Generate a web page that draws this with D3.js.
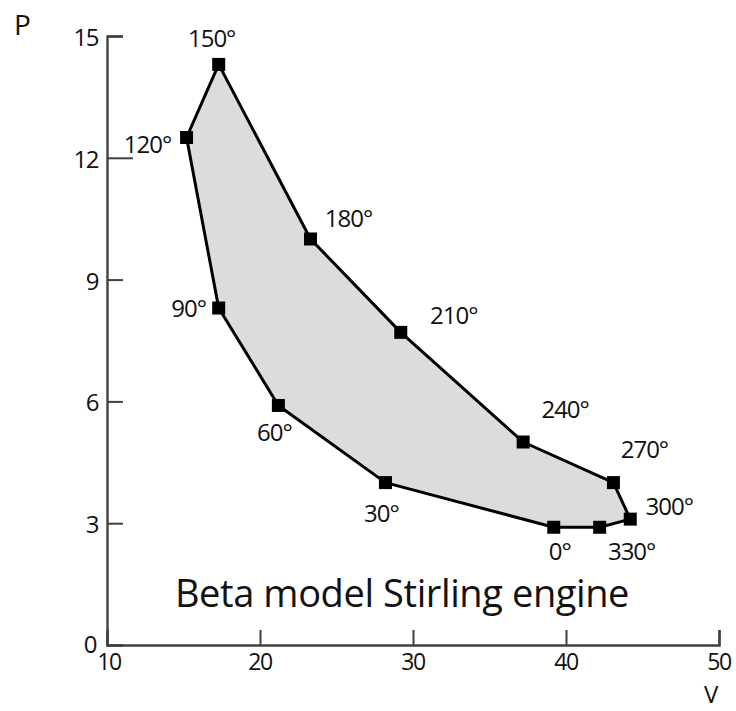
<!DOCTYPE html>
<html>
<head>
<meta charset="utf-8">
<script src="https://cdnjs.cloudflare.com/ajax/libs/d3/7.8.5/d3.min.js"></script>
<style>
  body { margin: 0; background: #fff; }
  svg text { font-family: "Open Sans", "Noto Sans", sans-serif; fill: #111; }
</style>
</head>
<body>
<div id="chart"></div>
<script>
// crank angle (deg) and the measured volume / pressure at each angle
var angles = [0, 30, 60, 90, 120, 150, 180, 210, 240, 270, 300, 330];
var volume = [39.2, 28.2, 21.2, 17.3, 15.2, 17.3, 23.3, 29.2, 37.2, 43.1, 44.2, 42.2];
var pressure = [2.9, 4.0, 5.9, 8.3, 12.5, 14.3, 10.0, 7.7, 5.0, 4.0, 3.1, 2.9];

var xTicks = [10, 20, 30, 40, 50];
var yTicks = [0, 3, 6, 9, 12, 15];

var title = 'Beta model Stirling engine';

// label placement relative to marker: [dx to text centre, dy to baseline]
var labelOffset = [
	[6, 33], [-4, 39], [-4, 36], [-30, 9], [-39, 15], [-7, -17],
	[38, -12], [53, -8], [42, -24], [31, -25], [39, -4], [32, 33]
];

var W = 736, H = 711;

var x = d3.scaleLinear().domain([10, 50]).range([107, 719]);
var y = d3.scaleLinear().domain([0, 15]).range([645, 36]);

var svg = d3.select('#chart')
  .append('svg')
  .attr('width', W)
  .attr('height', H);

var pts = angles.map(function(a, i) {
	return { a: a, v: volume[i], p: pressure[i], off: labelOffset[i] };
});

// shaded cycle
svg.append('path')
  .datum(pts)
  .attr('d', d3.line().x(function(d) { return x(d.v); }).y(function(d) { return y(d.p); }).curve(d3.curveLinearClosed))
  .attr('fill', '#dcdcdc')
  .attr('stroke', '#000')
  .attr('stroke-width', 3)
  .attr('stroke-linejoin', 'round');

// axes - ticks point inward
var xAxis = svg.append('g')
  .attr('transform', 'translate(0,' + y(0) + ')')
  .call(d3.axisTop(x).tickValues(xTicks).tickSize(15).tickFormat(''));

var yAxis = svg.append('g')
  .attr('transform', 'translate(' + x(10) + ',0)')
  .call(d3.axisRight(y).tickValues(yTicks).tickSize(16).tickFormat(''));

[xAxis, yAxis].forEach(function(g) {
	g.select('.domain').attr('stroke', '#404040').attr('stroke-width', 2.4);
	g.selectAll('.tick line').attr('stroke', '#404040').attr('stroke-width', 2);
});
// the 12 tick runs out to the 120 label in the original
yAxis.selectAll('.tick').filter(function(d) { return d === 12; }).select('line').attr('x2', 26);
yAxis.selectAll('.tick').filter(function(d) { return d === 0; }).remove();

// tick labels
svg.selectAll('.xlab')
  .data(xTicks)
  .enter().append('text')
  .attr('class', 'xlab')
  .attr('x', function(d) { return x(d) + (d === 10 ? 2 : 0); })
  .attr('y', 670)
  .attr('text-anchor', 'middle')
  .style('font-size', '23px')
  .style('letter-spacing', '-1.5px')
  .text(function(d) { return d; });

svg.selectAll('.ylab')
  .data(yTicks)
  .enter().append('text')
  .attr('class', 'ylab')
  .attr('x', function(d) { return d === 0 ? 96 : 98; })
  .attr('y', function(d) { return y(d) + (d === 0 ? 8 : 10); })
  .attr('text-anchor', 'end')
  .style('font-size', '24px')
  .style('letter-spacing', '-1.5px')
  .text(function(d) { return d; });

svg.append('text').attr('x', 14).attr('y', 35).style('font-size', '28px').text('P');
svg.append('text').attr('x', 704).attr('y', 703).style('font-size', '24px').text('V');

// markers
svg.selectAll('.mk')
  .data(pts)
  .enter().append('rect')
  .attr('class', 'mk')
  .attr('x', function(d) { return x(d.v) - 6.5; })
  .attr('y', function(d) { return y(d.p) - 6.5; })
  .attr('width', 13)
  .attr('height', 13)
  .attr('fill', '#000');

// angle labels
svg.selectAll('.ang')
  .data(pts)
  .enter().append('text')
  .attr('class', 'ang')
  .attr('x', function(d) { return x(d.v) + d.off[0]; })
  .attr('y', function(d) { return y(d.p) + d.off[1]; })
  .attr('text-anchor', 'middle')
  .style('font-size', '24px')
  .style('letter-spacing', '-1px')
  .text(function(d) { return d.a + '°'; });

svg.append('text')
  .attr('x', 402)
  .attr('y', 607)
  .attr('text-anchor', 'middle')
  .style('font-size', '38px')
  .style('letter-spacing', '-0.4px')
  .text(title);
</script>
</body>
</html>
